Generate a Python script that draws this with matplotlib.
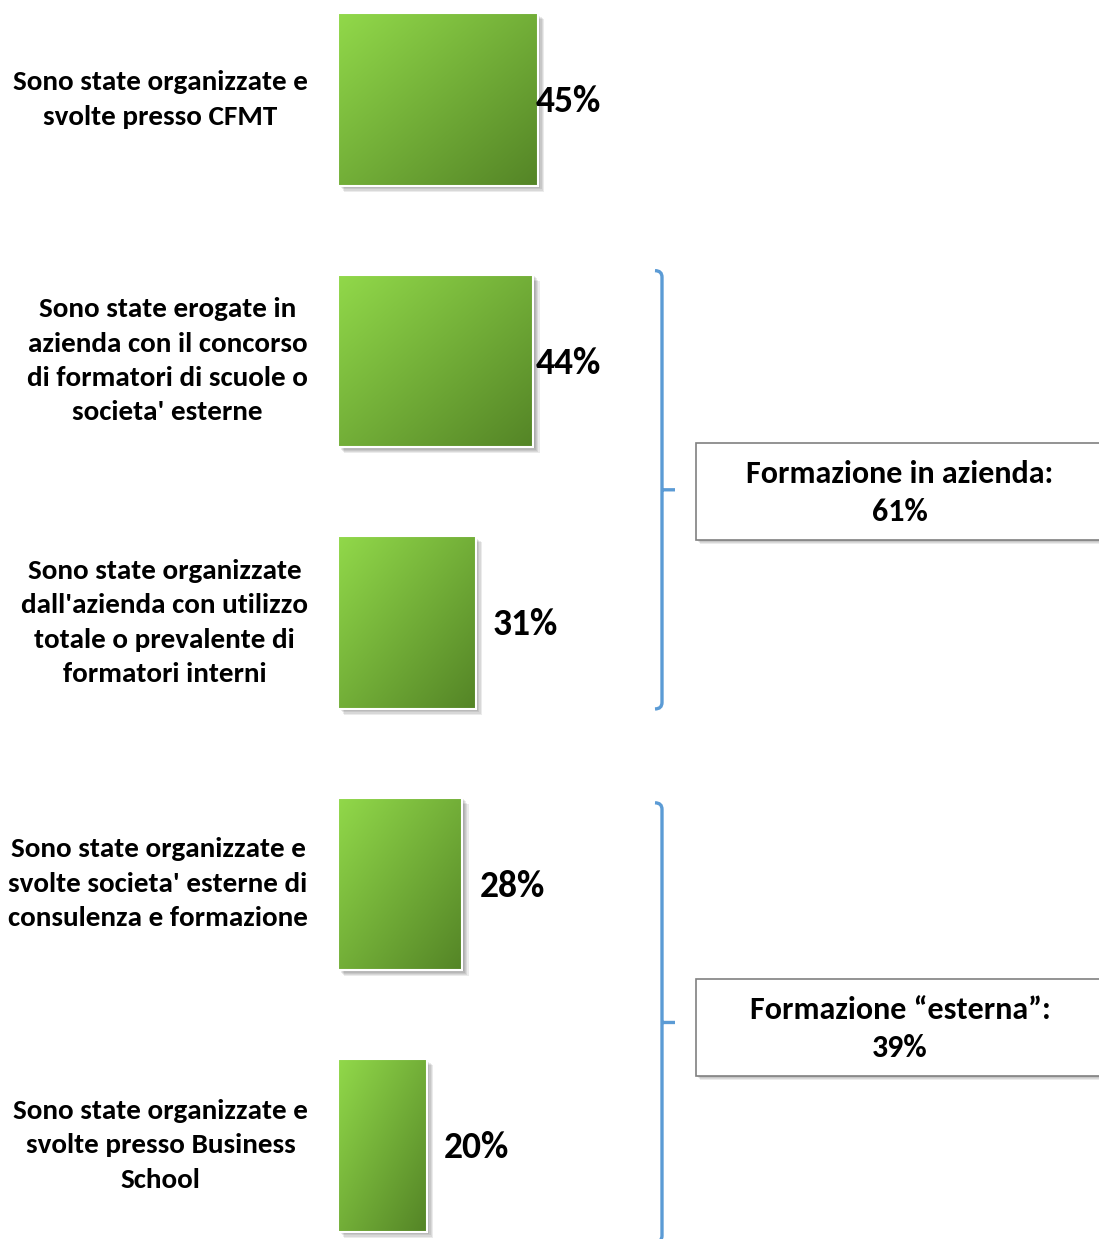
import numpy as np
import matplotlib
matplotlib.use("Agg")
import matplotlib.pyplot as plt
import matplotlib.patheffects as pe
from matplotlib.patches import Rectangle, PathPatch
from matplotlib.path import Path
from matplotlib.transforms import blended_transform_factory

## data
categories = [
    "Sono state organizzate e\nsvolte presso CFMT",
    "Sono state erogate in\nazienda con il concorso\ndi formatori di scuole o\nsocieta' esterne",
    "Sono state organizzate\ndall'azienda con utilizzo\ntotale o prevalente di\nformatori interni",
    "Sono state organizzate e\nsvolte societa' esterne di\nconsulenza e formazione",
    "Sono state organizzate e\nsvolte presso Business\nSchool",
]
values = [45, 44, 31, 28, 20]
group_labels = ["Formazione in azienda:\n61%", "Formazione \u201cesterna\u201d:\n39%"]

FAM = ['Carlito', 'Lato', 'DejaVu Sans']
plt.rcParams['font.family'] = FAM

W, H = 1099, 1239
fig = plt.figure(figsize=(W / 100, H / 100), dpi=100)
fig.patch.set_facecolor("white")

ax = fig.add_axes([338 / W, 0, 761 / W, 1])
ax.axis("off")
y = np.arange(len(values))
bh = 0.66

## shadow + base bars
shadow = [pe.SimplePatchShadow(offset=(k * 0.9, -k * 0.9), shadow_rgbFace="black", alpha=0.08)
          for k in range(1, 6)]
bars = ax.barh(y, values, height=bh, color="white", edgecolor="none", zorder=1)
for b in bars:
    b.set_path_effects(shadow + [pe.Normal()])

## gradient fill, clipped to each bar
c0 = np.array([0.57, 0.85, 0.29])
c1 = np.array([0.33, 0.52, 0.15])
u, v = np.meshgrid(np.linspace(0, 1, 80), np.linspace(0, 1, 80))
t = ((u + v) / 2)[..., None]
grad = c0 * (1 - t) + c1 * t
for b, yi, val in zip(bars, y, values):
    im = ax.imshow(grad, extent=(0, val, yi + bh / 2, yi - bh / 2),
                   aspect="auto", origin="upper", zorder=2, interpolation="bilinear")
    im.set_clip_path(b)

ax.barh(y, values, height=bh, color="none", edgecolor="white", linewidth=1.5, zorder=3)

xmax = 761 / 4.44
ax.set_xlim(0, xmax)
ax.set_ylim(4.358, -0.38)

## value labels (kept inside plot area on the right)
lim = (600 - 338) / 4.44 - 14.4
for yi, val in zip(y, values):
    ax.text(min(val + 3.9, lim), yi + 0.01, f"{val}%", fontsize=27, fontweight="bold",
            family=FAM, ha="left", va="center", zorder=4)

## category labels
tr = blended_transform_factory(fig.transFigure, ax.transData)
for yi, lab in zip(y, categories):
    ax.text(308 / W, yi, lab, transform=tr, ha="right", va="center", family=FAM,
            multialignment="center", fontsize=21, fontweight="bold", linespacing=1.52)

## brackets
col = "#5B9BD5"
brackets = [(0.655, 2.331), (2.69, 4.37)]
xL, xM, xR = 655 / W, 662 / W, 675 / W
r = 0.025
for y0, y1 in brackets:
    ym = (y0 + y1) / 2
    verts = [(xL, y0), (xM, y0), (xM, y0 + r), (xM, y1 - r), (xM, y1), (xL, y1),
             (xM, ym), (xR, ym)]
    codes = [Path.MOVETO, Path.CURVE3, Path.CURVE3, Path.LINETO, Path.CURVE3, Path.CURVE3,
             Path.MOVETO, Path.LINETO]
    ax.add_patch(PathPatch(Path(verts, codes), transform=tr, facecolor="none",
                           edgecolor=col, linewidth=2.4, clip_on=False, zorder=5))

## summary boxes
box_centers = [491.5 / 261.5 - 0.38, 1027.5 / 261.5 - 0.38]
box_h = 97 / 261.5
for yc, lab in zip(box_centers, group_labels):
    rect = Rectangle((696 / W, yc - box_h / 2), 0.4, box_h, transform=tr,
                     facecolor="white", edgecolor="#808080", linewidth=1.2,
                     clip_on=False, zorder=5)
    rect.set_path_effects([pe.SimplePatchShadow(offset=(k * 0.8, -k * 0.8),
                                                shadow_rgbFace="black", alpha=0.08)
                           for k in range(1, 5)] + [pe.Normal()])
    ax.add_patch(rect)
    ax.text(900 / W, yc + 0.005, lab, transform=tr, ha="center", va="center", family=FAM,
            multialignment="center", fontsize=23, fontweight="bold",
            linespacing=1.45, zorder=6)

fig.savefig("out.png", dpi=100)
